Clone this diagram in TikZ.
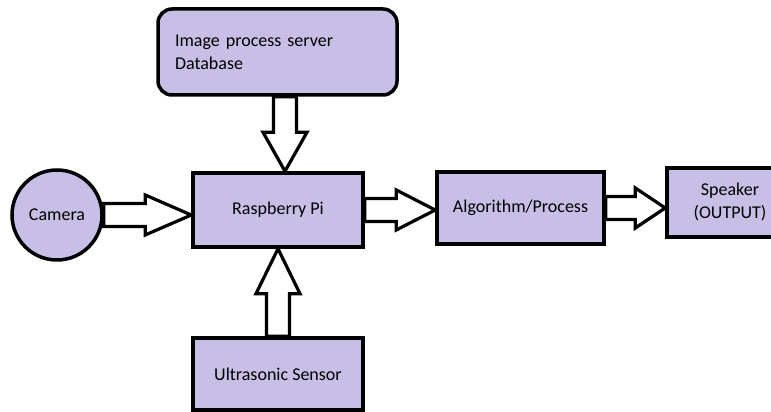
\documentclass[tikz,border=0pt]{standalone}
\usepackage{fontspec}
\setmainfont{Carlito}
\usetikzlibrary{calc}
\definecolor{lav}{RGB}{200,191,231}

\begin{document}
\begin{tikzpicture}[x=1pt, y=1pt, font=\fontsize{18}{23}\selectfont,
  box/.style={draw, line width=3.5pt, fill=lav, inner sep=2pt, align=center},
  fat/.style={draw, line width=3.2pt, fill=white, line join=miter},
  harrow/.style={fat, to path={let \p1=(\tikztostart), \p2=(\tikztotarget) in
    (\x1,\y2+11.5pt) -- (\x2-#1,\y2+11.5pt) -- (\x2-#1,\y2+20pt) -- (\x2,\y2)
    -- (\x2-#1,\y2-20pt) -- (\x2-#1,\y2-11.5pt) -- (\x1,\y2-11.5pt) -- cycle}},
  varrow/.style={fat, to path={let \p1=(\tikztostart), \p2=(\tikztotarget) in
    (\x1+11.5pt,\y1) -- (\x1+11.5pt,\y2+#1) -- (\x1+22pt,\y2+#1) -- (\x1,\y2)
    -- (\x1-22pt,\y2+#1) -- (\x1-11.5pt,\y2+#1) -- (\x1-11.5pt,\y1) -- cycle}}]

\useasboundingbox (0,0) rectangle (771,412);
\clip (0,0) rectangle (771,412);

% ---------- blocks ----------
\node[box, rounded corners=14pt, minimum width=239pt, minimum height=86pt,
  text width=205pt, align=left] (srv) at (277.5,360) {Image process server\\Database};
\node[box, minimum width=170pt, minimum height=74pt] (pi) at (278,202) {Raspberry Pi};
\node[box, circle, minimum size=90pt] (cam) at (57,197) {Camera};
\node[box, minimum width=167pt, minimum height=72pt] (alg) at (520.5,204) {Algorithm/Process};
\node[box, minimum width=126pt, minimum height=69pt] (spk) at (730,209.5) {Speaker\\(OUTPUT)};
\node[box, minimum width=170pt, minimum height=72pt] (us) at (278,38) {Ultrasonic Sensor};

% ---------- block arrows ----------
\draw[harrow=46pt] (cam.east) to (cam.east -| pi.west);
\draw[harrow=39pt] (pi.east) to (pi.east -| alg.west);
\draw[harrow=30pt] (alg.east) to (alg.east -| spk.west);
\draw[varrow=39pt] ([xshift=7.5pt]srv.south) to (pi.north);
\draw[varrow=-45pt] (us.north) to (pi.south);
\end{tikzpicture}
\end{document}
